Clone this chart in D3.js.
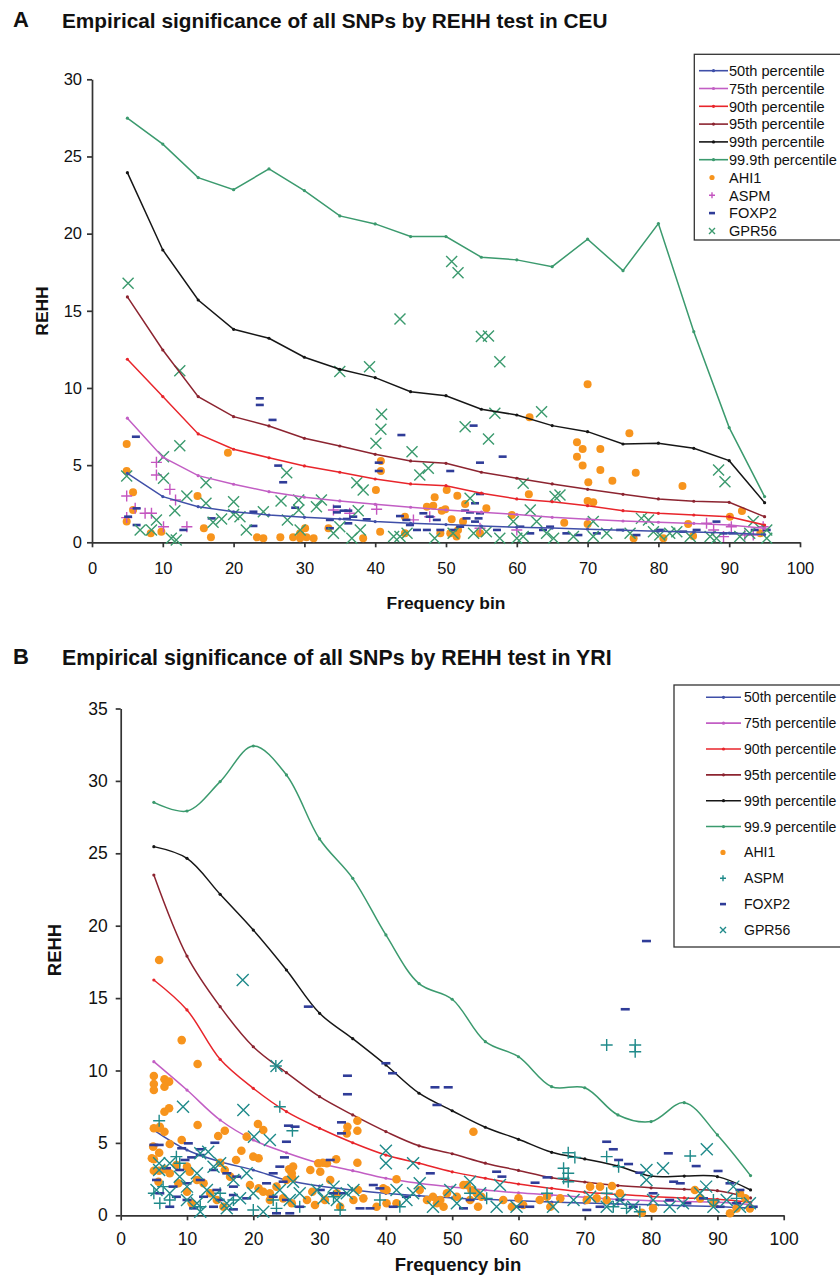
<!DOCTYPE html>
<html>
<head>
<meta charset="utf-8">
<script src="https://cdn.jsdelivr.net/npm/d3@7"></script>
<style>
  body { margin: 0; background: #fff; }
  svg { display: block; }
  text { font-family: "Liberation Sans", Arial, Helvetica, sans-serif; fill: #111; }
</style>
</head>
<body>
<svg id="chart" width="840" height="1276"></svg>
<script>
// frequency bins shared by both panels
const bins = [5,10,15,20,25,30,35,40,45,50,55,60,65,70,75,80,85,90,95];
const xTicks = [0,10,20,30,40,50,60,70,80,90,100];

// CEU percentile curves (panel A)
const ceuP50  = [4.47,2.96,2.31,1.98,1.77,1.62,1.51,1.34,1.23,1.15,1.05,0.98,0.92,0.85,0.78,0.72,0.66,0.60,0.50];
const ceuP75  = [8.04,5.51,4.32,3.76,3.28,2.92,2.68,2.46,2.27,2.10,1.95,1.80,1.62,1.50,1.38,1.30,1.22,1.12,0.90];
const ceuP90  = [11.86,9.44,7.02,6.03,5.48,4.95,4.54,4.10,3.78,3.67,3.18,2.81,2.63,2.37,2.05,1.88,1.77,1.66,1.12];
const ceuP95  = [15.9,12.46,9.44,8.14,7.54,6.74,6.24,5.70,5.27,5.12,4.54,4.15,3.78,3.43,3.11,2.81,2.66,2.59,1.66];
const ceuP99  = [23.95,18.94,15.7,13.8,13.22,11.99,11.21,10.67,9.76,9.50,8.62,8.25,7.56,7.17,6.37,6.42,6.09,5.29,2.57];
const ceuP999 = [27.48,25.8,23.63,22.85,24.19,22.79,21.15,20.63,19.81,19.81,18.47,18.30,17.86,19.64,17.60,20.65,13.65,7.43,2.96];

// YRI percentile curves (panel B)
const yriP50  = [5.89,4.51,3.70,3.13,2.44,2.02,1.75,1.52,1.35,1.20,1.10,1.00,0.92,0.85,0.78,0.72,0.66,0.60,0.50];
const yriP75  = [10.61,8.65,6.58,5.20,4.32,3.59,3.08,2.56,2.21,1.95,1.75,1.55,1.40,1.25,1.10,1.00,0.95,0.90,0.75];
const yriP90  = [16.25,14.18,10.77,8.77,7.16,6.01,5.01,4.16,3.59,3.0,2.56,2.16,1.86,1.60,1.45,1.30,1.20,1.10,0.90];
const yriP95  = [23.50,17.9,14.41,11.64,9.85,8.19,6.93,5.78,4.8,4.25,3.6,3.1,2.6,2.3,2.05,1.9,1.8,1.7,1.2];
const yriP99  = [25.46,24.65,22.17,19.70,16.94,13.95,12.20,10.38,8.43,7.22,6.08,5.25,4.35,3.89,3.40,2.71,2.71,2.67,1.75];
const yriP999 = [28.52,27.92,29.95,32.41,30.41,25.99,23.27,19.36,16.0,14.92,11.99,10.95,8.88,8.81,6.93,6.47,7.78,5.55,2.74];

const pctNamesA = ["50th percentile","75th percentile","90th percentile","95th percentile","99th percentile","99.9th percentile"];
const pctNamesB = ["50th percentile","75th percentile","90th percentile","95th percentile","99th percentile","99.9 percentile"];
const geneNames = ["AHI1","ASPM","FOXP2","GPR56"];

// SNP scores per gene, [frequency bin, REHH]
const ceuAHI1 = [[4.9,6.37],[4.9,4.62],[5.8,3.24],[5.8,2.09],[4.9,1.34],[8.3,0.58],[9.8,0.69],[19.2,5.81],[14.9,3.0],[15.8,0.91],[16.8,0.32],[23.3,0.32],[24.2,0.26],[26.6,0.32],[28.4,0.32],[29.4,0.58],[30.1,0.91],[30.3,0.32],[31.3,0.26],[29.4,0.26],[33.4,0.91],[38.3,0.26],[40.1,3.39],[40.8,5.27],[40.8,4.62],[40.7,0.69],[44.2,1.66],[44.2,0.58],
  [70.0,10.24],[61.8,8.10],[75.9,7.06],[68.5,6.48],[69.3,6.05],[68.5,5.55],[69.3,4.97],[71.8,6.05],[71.8,4.69],[70.1,3.89],[73.5,3.99],[76.8,4.51],[83.4,3.65],
  [50.1,3.39],[51.6,3.02],[52.7,2.48],[55.7,2.2],[48.4,2.92],[48.2,2.37],[49.4,2.05],[49.9,2.14],[50.8,1.49],[47.3,2.31],[52.4,1.34],[59.3,1.77],[61.7,3.11],[66.7,1.27],[70.0,2.68],[70.8,2.59],[70.0,1.19],[90.1,1.66],[91.8,2.03],[84.2,1.19],[84.9,0.41],[94.4,0.58],[49.2,0.58],[50.6,0.58],[51.5,0.37],[51.7,0.8],[54.8,0.58],[76.5,0.26],[80.7,0.26]];
const ceuASPM = [[9.1,5.18],[9.1,4.36],[4.9,3.0],[6.1,2.2],[4.9,1.6],[7.5,1.88],[8.4,1.88],[11.0,3.43],[11.8,2.74],[10.1,1.01],[13.4,1.01],[40.2,2.14],[34.1,2.09],[36.4,1.88],[45.4,1.45],[47.7,1.66],[54.8,0.91],[86.8,1.23],[87.8,0.80],[89.2,0.37],[90.3,1.01],[92.2,0.47],[93.4,0.47],[94.8,1.01],[60.0,0.80]];
const ceuFOXP2 = [[6.2,6.84],[23.7,9.33],[23.7,8.90],[25.5,7.93],[26.3,4.97],[27.0,3.89],[5.1,1.66],[6.3,2.2],[6.3,1.12],[12.9,0.80],[16.9,1.55],[22.8,1.98],[22.8,1.06],[28.7,2.24],[33.6,1.45],[33.6,0.91],[34.6,2.31],[34.6,1.94],[35.5,2.05],[36.2,2.05],[36.0,1.51],[36.9,1.66],[36.2,1.23],[38.8,1.49],[40.5,5.16],[40.5,4.62],[43.7,6.95],[43.5,1.70],[44.4,1.45],[44.9,1.12],[45.9,0.80],
  [53.9,7.56],[54.8,5.16],[58.0,5.55],[50.6,4.62],[54.8,3.13],[54.1,2.53],[52.7,2.05],[53.4,1.94],[54.8,1.88],[54.6,1.55],[54.1,1.34],[52.9,1.55],[46.8,1.88],[47.7,1.66],[48.7,1.45],[47.3,0.80],[49.2,0.80],[51.0,0.80],[52.0,1.01],[57.2,0.80],[60.5,1.01],[61.9,0.58],[63.7,0.80],[64.7,1.01],[67.0,0.58],[68.7,0.47],[71.3,0.58],[74.6,0.80],[76.9,0.47],[80.2,0.80],[83.5,0.69],[85.4,0.80],[88.2,1.34],[89.2,0.58],[90.6,0.58],[93.6,0.80],[95.3,0.80]];
const ceuGPR56 = [[5.1,16.78],[12.4,11.12],[12.4,6.26],[10.1,5.55],[4.9,4.30],[10.1,4.15],[13.4,3.0],[16.1,3.86],[16.1,2.53],[11.7,2.05],[9.1,1.45],[6.8,0.80],[8.4,0.80],[11.2,0.26],[11.9,0.15],[17.1,1.30],[18.3,1.51],[20.0,2.63],[20.0,1.80],[20.9,1.66],[21.8,0.80],[24.2,1.98],[26.7,2.68],[27.5,4.51],[27.6,1.45],[29.2,2.74],[29.2,2.09],[29.4,0.80],[31.7,2.31],[32.4,2.74],[35.0,11.06],[34.1,0.58],[35.0,1.01],[36.7,0.26],[37.4,3.86],[38.3,3.39],[37.6,2.05],[37.9,0.80],[39.2,11.38],[40.9,8.30],[40.8,7.32],[40.1,6.42],[43.5,14.47],[45.2,5.87],[42.6,0.37],[43.5,0.37],[44.5,0.58],
  [50.8,18.19],[51.7,17.47],[55.0,13.33],[56.0,13.37],[57.6,11.7],[56.9,8.36],[63.5,8.46],[52.7,7.49],[56.0,6.69],[46.3,4.36],[47.5,4.8],[60.9,3.82],[53.4,2.85],[65.4,2.96],[66.1,3.07],[61.9,2.09],[59.5,1.34],[62.8,1.34],[70.8,1.34],[77.6,1.55],[78.6,1.45],[88.5,4.69],[89.4,3.93],[93.4,1.34],[95.3,0.26],[95.3,0.8],
  [48.4,0.26],[51.0,0.58],[53.9,0.58],[55.7,0.69],[57.6,0.26],[60.0,0.26],[60.9,0.37],[64.2,0.58],[65.2,0.26],[68.0,0.37],[70.8,0.37],[72.7,0.58],[76.0,0.58],[79.3,0.69],[80.2,0.47],[81.6,0.58],[82.6,0.69],[84.5,0.37],[87.3,0.37],[88.2,0.26],[91.5,0.37],[92.9,0.58]];

const yriAHI1 = [[5.8,17.63],[9.2,12.1],[11.6,10.45],[5.0,9.62],[5.0,9.07],[5.0,8.65],[6.6,9.39],[6.6,8.88],[7.3,9.23],[6.6,7.15],[7.3,7.39],[5.0,6.01],[5.8,6.01],[6.6,5.77],[7.4,4.92],[5.0,3.87],[5.8,4.32],[5.0,3.08],[5.8,3.08],[6.6,3.18],[7.4,2.90],[9.2,5.20],[11.6,6.24],[14.7,5.48],[15.7,5.84],[19.0,5.43],[18.2,4.46],[17.4,3.82],[20.0,4.05],[20.8,3.94],[20.7,6.31],[21.5,5.89],[15.0,3.63],[16.5,2.67],[20.8,1.86],[21.5,1.63],[22.5,1.52],[23.5,1.98],[25.4,3.18],[25.8,2.90],[25.9,2.56],[25.0,2.44],[28.1,1.06],[29.3,0.71],[30.8,1.06],[28.9,1.63],[30.1,3.01],[31.1,3.59],[30.5,3.63],[32.5,3.87],[31.6,2.44],[34.1,5.66],[35.7,6.53],[35.7,5.84],[34.2,6.12],[35.7,3.63],[35.1,1.06],[36.6,1.17],[35.8,1.75],[40.1,1.75],[41.6,0.83],[41.6,2.49],[32.6,1.52],[33.1,0.59],
  [15.7,3.13],[10.4,3.01],[11.5,2.44],[12.5,2.21],[10.0,3.36],[8.4,3.47],[4.9,4.74],[4.7,3.94],[5.7,2.32],[5.9,6.12],[8.7,2.21],[10.0,1.63],[10.7,0.83],[13.5,1.52],[14.5,1.06],[15.5,0.59],[19.5,2.09],[22.5,1.06],[24.5,1.17],[25.8,0.83],[26.0,3.36],[28.6,3.13],[29.8,3.59],[39.6,1.86],[40.1,0.83],[38.6,0.59],[46.2,1.06],[47.7,0.83],[48.7,0.59],[50.7,1.28],[51.7,2.09],
  [53.2,5.77],[45.1,1.75],[47.1,1.28],[48.2,1.06],[49.2,1.52],[52.2,2.09],[52.9,1.75],[53.7,1.52],[54.4,1.28],[52.7,1.06],[53.9,0.59],[57.7,1.06],[59.0,0.59],[60.0,1.17],[60.7,0.71],[63.2,1.06],[64.3,1.28],[64.8,0.59],[66.3,1.17],[70.8,1.98],[72.3,1.98],[74.1,2.02],[75.3,1.52],[70.3,1.06],[71.8,1.17],[73.3,1.06],[78.6,0.18],[80.3,0.48],[86.6,1.75],[87.4,1.17],[89.4,0.83],[92.9,0.48],[94.2,1.17],[94.9,0.48],[93.4,1.52],[91.9,0.14]];
const yriASPM = [[73.3,11.76],[77.6,11.76],[77.6,11.30],[67.5,4.32],[68.5,4.0],[73.3,4.05],[75.1,3.36],[85.9,4.10],[66.8,3.25],[67.5,2.90],[66.8,2.56],[67.5,2.32],[74.3,0.59],[76.3,0.48],[78.3,0.25],[52.7,1.52],[55.2,1.17],[64.3,1.52],[73.3,1.52],[89.4,1.06],[92.9,1.17],[5.8,6.53],[23.4,10.31],[24.0,7.50],[25.9,5.84],[5.0,1.52],[6.4,1.98],[7.4,1.06],[5.9,0.83],[8.4,4.05],[8.9,3.59],[12.0,0.59],[15.0,1.52],[17.0,1.06],[20.0,0.37],[23.0,1.06],[23.5,0.48],[27.0,0.59],[32.1,1.28],[33.1,0.37],[39.1,1.06],[42.1,0.59]];
const yriFOXP2 = [[79.3,18.94],[76.1,14.23],[47.4,8.84],[49.4,8.84],[47.7,7.62],[73.3,5.08],[74.3,4.56],[75.1,3.82],[76.6,3.54],[82.6,4.28],[86.8,3.40],[90.1,3.06],[78.3,2.94],[46.7,2.90],[56.7,3.01],[57.5,2.67],[62.5,2.25],[64.3,2.62],[83.4,2.32],[84.4,2.21],[91.9,2.21],[93.4,1.75],[52.7,1.06],[51.7,0.48],[60.2,0.59],[61.7,0.59],[75.3,1.06],[77.3,0.59],[80.3,1.52],[82.8,1.06],[85.4,0.83],[87.9,1.17],[90.4,0.59],[92.9,0.83],[95.4,0.59],[70.3,0.37],[72.3,0.59],
  [28.3,14.41],[34.2,9.64],[34.2,8.36],[33.3,6.42],[33.3,5.66],[40.0,10.50],[41.0,9.81],[24.7,4.0],[24.0,3.36],[25.0,5.08],[25.3,6.19],[26.3,6.12],[31.6,3.82],[5.0,4.86],[5.8,4.86],[9.2,4.63],[10.2,4.97],[12.0,4.56],[14.2,5.01],[9.7,3.82],[10.7,4.0],[12.0,4.16],[6.9,3.25],[8.9,3.13],[14.0,3.13],[16.0,2.90],[17.5,2.67],[5.4,2.44],[7.9,1.98],[10.0,2.21],[12.0,2.44],[14.5,1.75],[17.0,1.98],[5.9,1.52],[8.4,1.28],[10.0,1.06],[12.5,1.28],[15.0,1.06],[17.0,1.40],[19.0,1.17],[7.4,0.59],[11.0,0.48],[14.0,0.59],[17.0,0.41],[23.0,2.90],[24.5,2.32],[22.0,2.21],[23.0,1.28],[25.0,1.06],[27.0,0.59],[23.5,0.14],[25.5,0.14],[30.1,1.75],[32.1,1.52],[33.6,1.52],[36.1,0.48],[37.6,0.48],[38.1,2.09],[39.1,1.86],[43.1,1.28],[41.1,0.59]];
const yriGPR56 = [[18.4,16.25],[9.4,7.50],[18.5,7.27],[23.5,10.31],[20.1,5.43],[22.5,5.20],[40.0,4.46],[40.0,3.59],[44.1,3.59],[5.8,3.59],[5.8,3.13],[7.4,3.59],[12.0,4.28],[13.2,4.39],[14.0,3.36],[15.0,3.59],[17.0,2.44],[19.0,2.90],[8.9,2.67],[10.0,1.98],[11.5,2.90],[13.0,1.75],[5.4,1.75],[7.4,1.52],[10.0,1.06],[11.5,0.83],[14.0,1.28],[16.0,0.83],[18.0,1.17],[20.0,1.52],[12.0,0.25],[16.0,0.48],[21.5,0.25],[24.0,1.75],[26.0,2.32],[27.0,1.52],[25.5,1.06],[29.6,1.75],[30.6,1.17],[32.1,1.98],[32.6,1.06],[34.1,1.52],[35.1,1.75],[41.6,1.75],[43.1,1.06],[44.1,1.52],
  [88.4,4.56],[79.3,3.13],[79.3,2.44],[81.8,3.25],[88.3,1.98],[45.1,2.21],[49.7,1.75],[52.7,2.32],[57.2,2.09],[47.1,0.59],[50.7,0.83],[54.2,1.52],[56.7,0.59],[59.7,0.59],[65.2,0.59],[68.3,1.06],[70.8,1.28],[73.3,0.59],[75.3,1.06],[77.3,0.59],[80.3,1.06],[82.8,0.59],[84.8,0.83],[87.4,1.52],[89.4,0.59],[91.4,1.06],[93.4,0.59],[94.9,0.83],[92.4,1.98]];

const lineColors = ["#3f4fa8","#c25ec4","#e8252b","#8c2430","#161616","#3b9a6e"];
const orange = "#f7941d", navy = "#2f3c98";

const svg = d3.select("#chart");

// marker shapes, centred on 0,0
function marker(g, kind, color, s) {
  if (kind == "dot") {
    g.append("circle").attr("r", s).attr("fill", color);
  } else if (kind == "plus") {
    g.append("path").attr("d", `M${-s},0H${s}M0,${-s}V${s}`)
      .attr("stroke", color).attr("stroke-width", 1.4).attr("fill", "none");
  } else if (kind == "dash") {
    g.append("rect").attr("x", -s).attr("y", -1.3).attr("width", 2 * s).attr("height", 2.6).attr("fill", color);
  } else {
    g.append("path").attr("d", `M${-s},${-s}L${s},${s}M${-s},${s}L${s},${-s}`)
      .attr("stroke", color).attr("stroke-width", 1.4).attr("fill", "none");
  }
}

function drawPanel(p) {
  const g = svg.append("g");
  const x = d3.scaleLinear().domain([0, 100]).range(p.xRange);
  const y = d3.scaleLinear().domain([0, p.yMax]).range(p.yRange);

  // heading
  g.append("text").attr("x", 13).attr("y", p.titleY - 1)
    .attr("font-size", 22).attr("font-weight", "bold").text(p.letter);
  const t = g.append("text").attr("x", 62).attr("y", p.titleY)
    .attr("font-size", 18).attr("font-weight", "bold").text(p.title);
  t.attr("font-size", 18 * p.titleW / t.node().getComputedTextLength());

  // axes
  const ax = g.append("g").attr("transform", `translate(0,${p.yRange[0]})`)
    .call(d3.axisBottom(x).tickValues(xTicks).tickSize(5).tickSizeOuter(0).tickPadding(p.xPad));
  const ay = g.append("g").attr("transform", `translate(${p.xRange[0]},0)`)
    .call(d3.axisLeft(y).tickValues(d3.range(0, p.yMax + 1, 5)).tickSize(5).tickSizeOuter(0).tickPadding(p.yPad));
  [ax, ay].forEach(a => {
    a.attr("font-family", null).attr("font-size", p.tickFont);
    a.selectAll("path, line").attr("stroke", "#333").attr("stroke-width", 1.7);
    a.selectAll("text").attr("fill", "#222");
  });

  g.append("text").attr("x", p.xLabel[0]).attr("y", p.xLabel[1])
    .attr("text-anchor", "middle").attr("font-weight", "bold").attr("font-size", p.labelFont)
    .text("Frequency bin");
  g.append("text").attr("transform", `translate(${p.yLabel[0]},${p.yLabel[1]}) rotate(-90)`)
    .attr("text-anchor", "middle").attr("font-weight", "bold").attr("font-size", p.labelFont)
    .attr("dy", "0.35em").text("REHH");

  const line = d3.line().x((d, i) => x(bins[i])).y(d => y(d));
  if (p.smooth) line.curve(d3.curveCatmullRom.alpha(0.5));

  function drawLines() {
    p.lines.forEach((vals, i) => {
      g.append("path").attr("d", line(vals)).attr("fill", "none")
        .attr("stroke", lineColors[i]).attr("stroke-width", 1.5);
      g.selectAll(null).data(vals).enter().append("circle")
        .attr("cx", (d, j) => x(bins[j])).attr("cy", d => y(d))
        .attr("r", 1.6).attr("fill", lineColors[i]);
    });
  }
  function drawGenes() {
    p.genes.forEach((pts, i) => {
      pts.forEach(d => {
        const m = g.append("g").attr("transform", `translate(${x(d[0])},${y(d[1])})`);
        marker(m, p.kinds[i], p.geneColors[i], p.sizes[i]);
      });
    });
  }
  if (p.smooth) { drawLines(); drawGenes(); } else { drawGenes(); drawLines(); }

  // legend
  const lg = g.append("g");
  lg.append("rect").attr("x", p.legend.x).attr("y", p.legend.y)
    .attr("width", 200).attr("height", p.legend.h)
    .attr("fill", "#fff").attr("stroke", "#333").attr("stroke-width", 1.3);
  const names = p.pctNames.concat(geneNames);
  names.forEach((name, i) => {
    const cy = p.legend.row0 + i * p.legend.dy;
    const l = p.legend;
    if (i < 6) {
      lg.append("line").attr("x1", l.lx1).attr("x2", l.lx2).attr("y1", cy).attr("y2", cy)
        .attr("stroke", lineColors[i]).attr("stroke-width", 1.6);
      lg.append("circle").attr("cx", (l.lx1 + l.lx2) / 2).attr("cy", cy).attr("r", 1.6).attr("fill", lineColors[i]);
    } else {
      const m = lg.append("g").attr("transform", `translate(${l.mx},${cy})`);
      const k = i - 6;
      marker(m, p.kinds[k], p.geneColors[k], [2.6, 3, 3, 3][k]);
    }
    lg.append("text").attr("x", l.tx).attr("y", cy).attr("dy", "0.36em")
      .attr("font-size", l.font).text(name);
  });
}

drawPanel({
  letter: "A", title: "Empirical significance of all SNPs by REHH test in CEU",
  titleY: 28, titleW: 546,
  xRange: [92, 800], yRange: [542.3, 79.3], yMax: 30,
  tickFont: 16.5, xPad: 15, yPad: 5, labelFont: 17.4,
  xLabel: [446, 609], yLabel: [42, 311],
  lines: [ceuP50, ceuP75, ceuP90, ceuP95, ceuP99, ceuP999], smooth: false,
  genes: [ceuAHI1, ceuASPM, ceuFOXP2, ceuGPR56],
  kinds: ["dot", "plus", "dash", "cross"],
  geneColors: [orange, "#c455c0", navy, "#3b9a6e"],
  sizes: [4, 5.5, 4, 5.5],
  pctNames: pctNamesA,
  legend: { x: 694.3, y: 54.3, h: 185.7, row0: 70.7, dy: 17.8, lx1: 699, lx2: 728, mx: 712, tx: 729, font: 14.6 }
});

drawPanel({
  letter: "B", title: "Empirical significance of all SNPs by REHH test in YRI",
  titleY: 665, titleW: 550,
  xRange: [120.7, 783.7], yRange: [1215.3, 708.5], yMax: 35,
  tickFont: 17.5, xPad: 12, yPad: 8, labelFont: 18.5,
  xLabel: [458, 1271], yLabel: [55, 950],
  lines: [yriP50, yriP75, yriP90, yriP95, yriP99, yriP999], smooth: true,
  genes: [yriAHI1, yriASPM, yriFOXP2, yriGPR56],
  kinds: ["dot", "plus", "dash", "cross"],
  geneColors: [orange, "#1f8a8a", navy, "#1f8a8a"],
  sizes: [4.3, 6, 4.5, 6],
  pctNames: pctNamesB,
  legend: { x: 674, y: 685, h: 262, row0: 697.3, dy: 25.85, lx1: 706, lx2: 741, mx: 723, tx: 744, font: 14.1 }
});
</script>
</body>
</html>
